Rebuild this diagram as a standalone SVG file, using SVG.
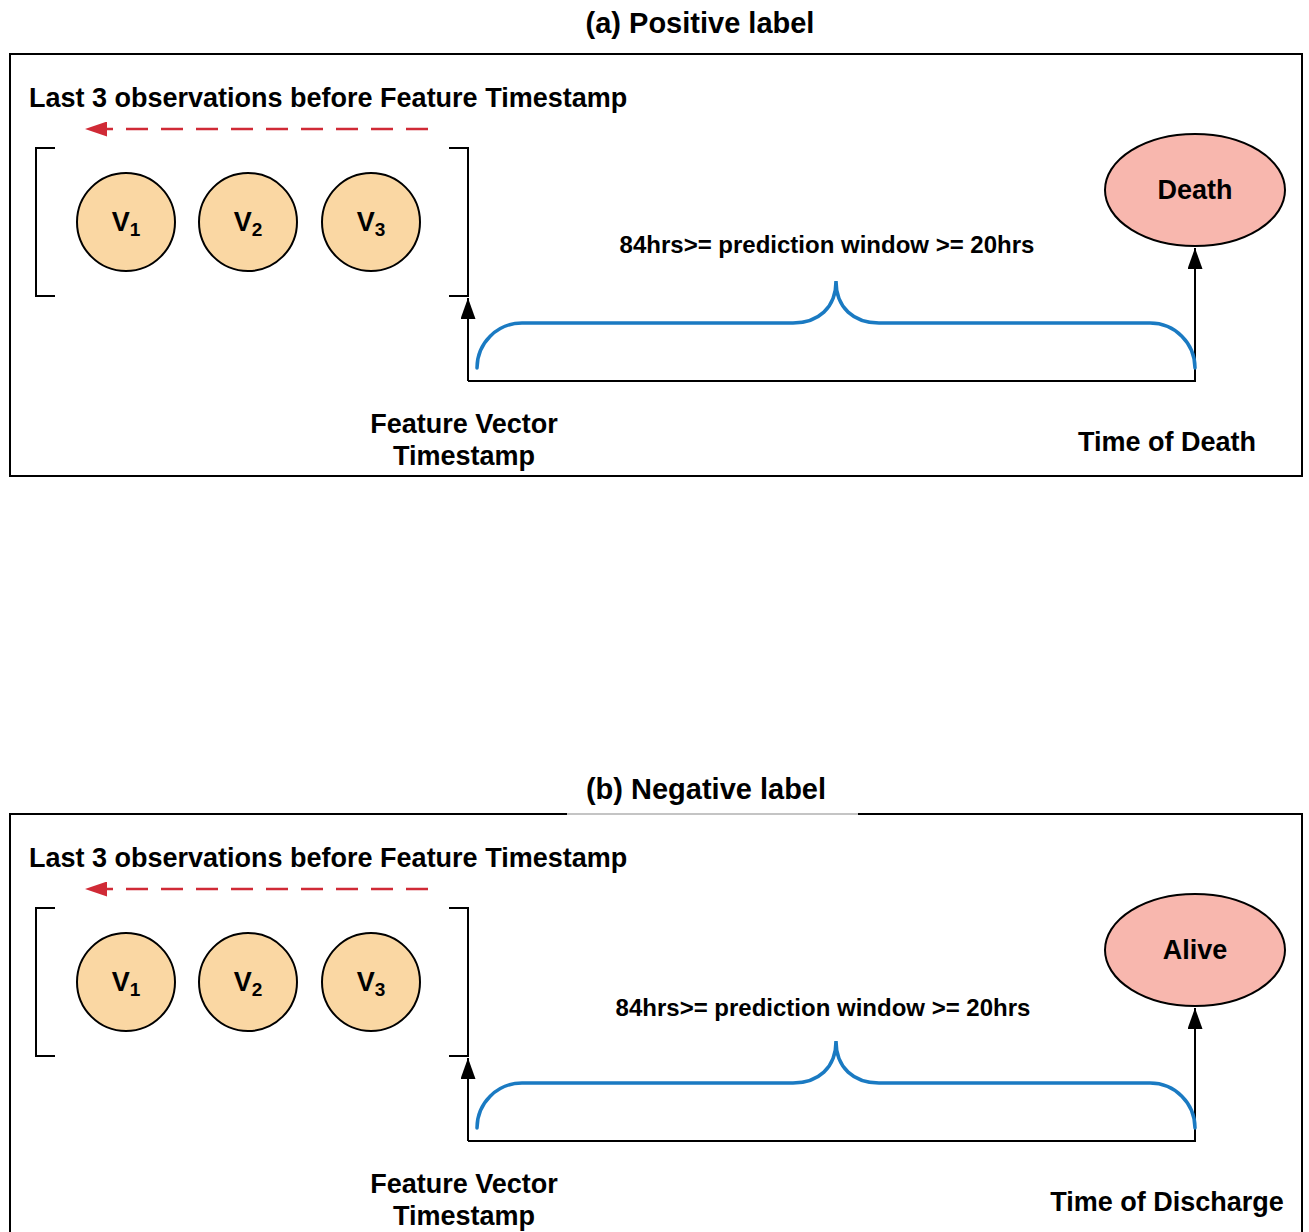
<svg xmlns="http://www.w3.org/2000/svg" width="1309" height="1232" viewBox="0 0 1309 1232">
<defs>
<style>
text{font-family:"Liberation Sans",Arial,Helvetica,sans-serif;font-weight:bold;fill:#000}
.title{font-size:29px}
.lbl{font-size:27px}
.win{font-size:24px}
.obs{fill:#fad7a3;stroke:#000;stroke-width:2}
.out{fill:#f8b7ae;stroke:#000;stroke-width:2}
.frame{fill:none;stroke:#000;stroke-width:2}
.brk{fill:none;stroke:#000;stroke-width:2}
.ax{fill:none;stroke:#000;stroke-width:2}
.brace{fill:none;stroke:#1a7ac2;stroke-width:3.5;stroke-linecap:round}
.dash{fill:none;stroke:#d02a36;stroke-width:2.5;stroke-dasharray:22 13}
.vt{font-size:27px}
.sub{font-size:19px}
</style>
<marker id="ah" viewBox="0 0 10 10" refX="10" refY="5" markerWidth="21" markerHeight="15" preserveAspectRatio="none" markerUnits="userSpaceOnUse" orient="auto"><path d="M0,0 L10,5 L0,10 Z" fill="#000"/></marker>
<marker id="ahr" viewBox="0 0 10 10" refX="10" refY="5" markerWidth="22" markerHeight="15" preserveAspectRatio="none" markerUnits="userSpaceOnUse" orient="auto"><path d="M0,0 L10,5 L0,10 Z" fill="#d02a36"/></marker>
</defs>
<rect width="1309" height="1232" fill="#fff"/>

<!-- Panel (a) -->
<g id="panel-a">
<text class="title" x="700" y="33" text-anchor="middle">(a) Positive label</text>
<rect class="frame" x="10" y="54" width="1292" height="422"/>
<text class="lbl" x="29" y="107">Last 3 observations before Feature Timestamp</text>
<path class="brk" d="M55,148 H36 V296 H55"/>
<path class="brk" d="M449,148 H468 V296 H449"/>
<g id="a-v1"><circle class="obs" cx="126" cy="222" r="49"/><text class="vt" x="126" y="231" text-anchor="middle">V<tspan class="sub" dy="5">1</tspan></text></g>
<g id="a-v2"><circle class="obs" cx="248" cy="222" r="49"/><text class="vt" x="248" y="231" text-anchor="middle">V<tspan class="sub" dy="5">2</tspan></text></g>
<g id="a-v3"><circle class="obs" cx="371" cy="222" r="49"/><text class="vt" x="371" y="231" text-anchor="middle">V<tspan class="sub" dy="5">3</tspan></text></g>
<g id="a-death"><ellipse class="out" cx="1195" cy="190" rx="90" ry="56"/><text class="vt" x="1195" y="199" text-anchor="middle">Death</text></g>
<text class="win" x="827" y="253" text-anchor="middle">84hrs&gt;= prediction window &gt;= 20hrs</text>
<text class="lbl" x="464" y="433" text-anchor="middle">Feature Vector</text>
<text class="lbl" x="464" y="465" text-anchor="middle">Timestamp</text>
<text class="lbl" x="1167" y="451" text-anchor="middle">Time of Death</text>
</g>

<g id="connectors-a">
<path class="dash" d="M428,129 H85" marker-end="url(#ahr)"/>
<path class="ax" d="M468,381 V298" marker-end="url(#ah)"/>
<path class="ax" d="M468,381 H1195 V248" marker-end="url(#ah)"/>
<path class="brace" d="M477,368 A45,45 0 0 1 522,323 H793 C818,323 836,308 836,281 C836,308 854,323 879,323 H1150 A45,45 0 0 1 1195,368"/>
</g>

<!-- Panel (b) -->
<g id="panel-b">
<text class="title" x="706" y="799" text-anchor="middle">(b) Negative label</text>
<path class="frame" d="M10,1240 V814 H567 M858,814 H1302 V1240"/>
<path d="M567,814 H858" stroke="#8a8a8a" stroke-width="1.2" fill="none"/>
<text class="lbl" x="29" y="867">Last 3 observations before Feature Timestamp</text>
<path class="brk" d="M55,908 H36 V1056 H55"/>
<path class="brk" d="M449,908 H468 V1056 H449"/>
<g id="b-v1"><circle class="obs" cx="126" cy="982" r="49"/><text class="vt" x="126" y="991" text-anchor="middle">V<tspan class="sub" dy="5">1</tspan></text></g>
<g id="b-v2"><circle class="obs" cx="248" cy="982" r="49"/><text class="vt" x="248" y="991" text-anchor="middle">V<tspan class="sub" dy="5">2</tspan></text></g>
<g id="b-v3"><circle class="obs" cx="371" cy="982" r="49"/><text class="vt" x="371" y="991" text-anchor="middle">V<tspan class="sub" dy="5">3</tspan></text></g>
<g id="b-alive"><ellipse class="out" cx="1195" cy="950" rx="90" ry="56"/><text class="vt" x="1195" y="959" text-anchor="middle">Alive</text></g>
<text class="win" x="823" y="1016" text-anchor="middle">84hrs&gt;= prediction window &gt;= 20hrs</text>
<text class="lbl" x="464" y="1193" text-anchor="middle">Feature Vector</text>
<text class="lbl" x="464" y="1225" text-anchor="middle">Timestamp</text>
<text class="lbl" x="1167" y="1211" text-anchor="middle">Time of Discharge</text>
</g>

<g id="connectors-b">
<path class="dash" d="M428,889 H85" marker-end="url(#ahr)"/>
<path class="ax" d="M468,1141 V1058" marker-end="url(#ah)"/>
<path class="ax" d="M468,1141 H1195 V1008" marker-end="url(#ah)"/>
<path class="brace" d="M477,1128 A45,45 0 0 1 522,1083 H793 C818,1083 836,1068 836,1041 C836,1068 854,1083 879,1083 H1150 A45,45 0 0 1 1195,1128"/>
</g>
</svg>
